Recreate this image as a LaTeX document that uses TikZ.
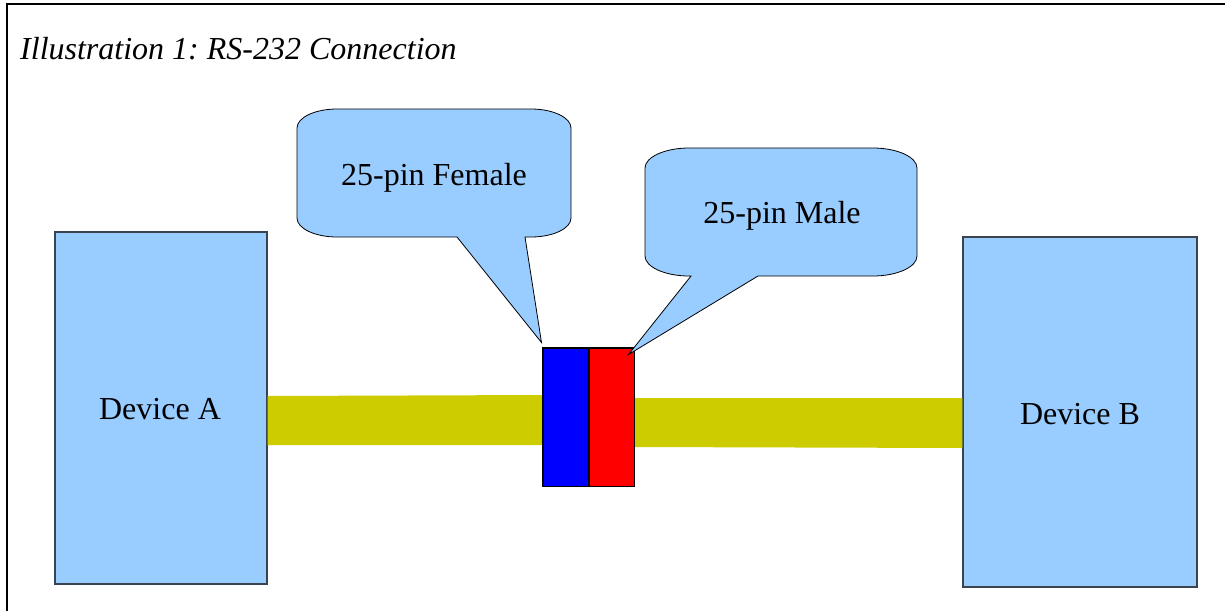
\documentclass[tikz,border=0pt]{standalone}
\usepackage{fontspec}
\setmainfont{Liberation Serif}
\usetikzlibrary{calc}
\definecolor{paleblue}{HTML}{99CCFF}
\definecolor{cablecol}{HTML}{CCCC00}
\definecolor{edgegrey}{HTML}{3A4450}
\frenchspacing
\begin{document}
\begin{tikzpicture}[x=1pt,y=-1pt,
  txt/.style={font=\fontsize{32}{38}\selectfont, inner sep=0pt},
  devbox/.style={draw=edgegrey, line width=1.4pt, fill=paleblue, inner sep=0pt},
  plug/.style={draw=black, line width=1pt, inner sep=0pt, minimum width=46, minimum height=138},
  balloon/.style={draw=black, line width=0.8pt, fill=paleblue},
  cable/.style={fill=cablecol}]
\useasboundingbox (0,0) rectangle (1225,611);

% page frame (top and left rules)
\draw[line width=1.5pt] (7,611) -- (7,4) -- (1225,4);

% caption
\node[txt, anchor=base west, font=\fontsize{32}{38}\selectfont\itshape] (title) at (20,59) {Illustration 1: RS-232 Connection};

% devices
\node[devbox, minimum width=212, minimum height=352] (devA) at (161,408) {};
\node[devbox, minimum width=234, minimum height=350] (devB) at (1080,412) {};
\node[txt, anchor=base] (labA) at (160,419) {Device A};
\node[txt, anchor=base] (labB) at (1080,424) {Device B};

% connector halves
\node[plug, fill=blue] (fem) at (566,417) {};
\node[plug, fill=red] (male) at (611,417) {};

% cables
\coordinate (c1a) at (devA.east |- 0,396);
\coordinate (c1b) at (fem.west |- 0,395);
\coordinate (c2a) at (male.east |- 0,398);
\coordinate (c2b) at (devB.west |- 0,398);
\fill[cable] (c1a) -- (c1b) -- ++(0,50) -- ($(c1a)+(0,49)$) -- cycle;
\fill[cable] (c2a) -- (c2b) -- ++(0,50) -- ($(c2a)+(0,49)$) -- cycle;
\draw[line width=1pt] (fem.north west) rectangle (male.south east);
\draw[line width=1pt] (fem.north east) -- (fem.south east);

% speech balloons
\coordinate (tipF) at ($(fem.north west)+(-1,-5)$);
\coordinate (tipM) at ($(male.north east)+(-6,7)$);
\draw[balloon] (297,128) .. controls (297,117.5) and (315,109) .. (337,109)
  -- (531,109) .. controls (553,109) and (571,117.5) .. (571,128)
  -- (571,218) .. controls (571,228.5) and (553,237) .. (531,237)
  -- (525,237) -- (tipF) -- (457,237)
  -- (337,237) .. controls (315,237) and (297,228.5) .. (297,218) -- cycle;
\draw[balloon] (645,168) .. controls (645,157) and (665,148) .. (689,148)
  -- (873,148) .. controls (897,148) and (917,157) .. (917,168)
  -- (917,256) .. controls (917,267) and (897,276) .. (873,276)
  -- (758,276) -- (tipM) -- (691,276)
  -- (689,276) .. controls (665,276) and (645,267) .. (645,256) -- cycle;
\node[txt, anchor=base] (labF) at (434,185) {25-pin Female};
\node[txt, anchor=base] (labM) at (782,223) {25-pin Male};
\end{tikzpicture}
\end{document}
